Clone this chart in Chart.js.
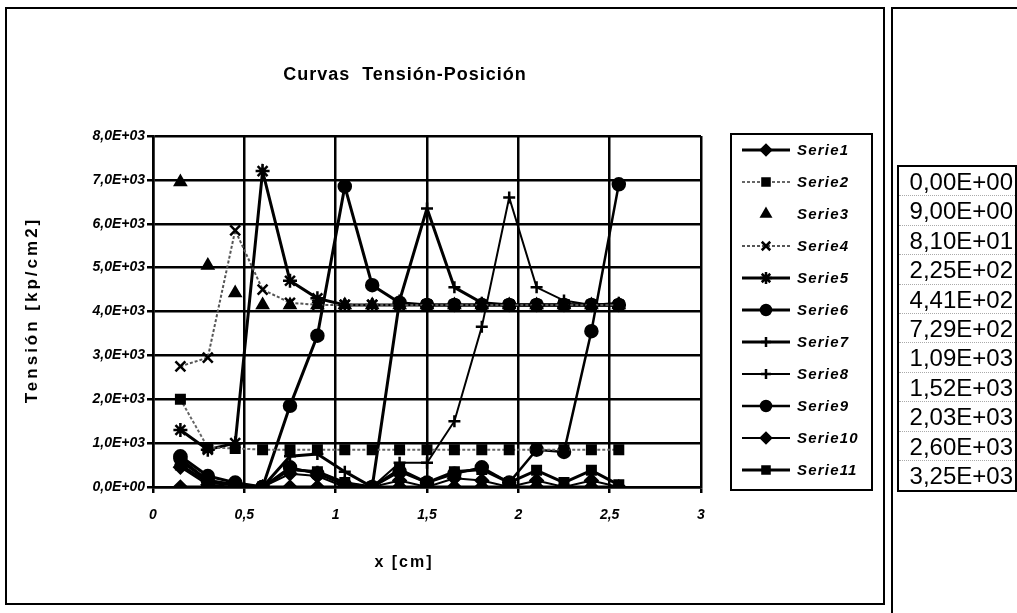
<!DOCTYPE html>
<html>
<head>
<meta charset="utf-8">
<script src="https://cdn.jsdelivr.net/npm/chart.js@4.4.0/dist/chart.umd.min.js"></script>
<style>
body { margin: 0; background: #fff; }
#wrap { position: relative; width: 1017px; height: 613px; overflow: hidden; }
#chart { position: absolute; left: 0; top: 0; }
#frame { position: absolute; left: 5px; top: 7px; width: 876px; height: 594px; border: 2px solid #000; }
#panel { position: absolute; left: 891px; top: 7px; width: 140px; height: 610px; border-left: 2px solid #000; border-top: 2px solid #000; }
#table { position: absolute; left: 897px; top: 165px; width: 116px; border: 2px solid #000;
  font-family: "Liberation Sans", Arial, sans-serif; font-size: 24px; color: #000; }
.row { height: 29.4px; line-height: 29px; text-align: right; padding-right: 2px; border-bottom: 1px dotted #aaa; box-sizing: border-box; }
.row:last-child { border-bottom: none; }
</style>
</head>
<body>
<div id="wrap">
  <div id="frame"></div>
  <canvas id="chart" width="1017" height="613"></canvas>
  <div id="panel"></div>
  <div id="table"></div>
</div>
<script>
// x positions (cm)
const xValues = [0.15, 0.3, 0.45, 0.6, 0.75, 0.9, 1.05, 1.2, 1.35, 1.5, 1.65, 1.8, 1.95, 2.1, 2.25, 2.4, 2.55];

// tension values (kp/cm2)
const serie1  = [0, 0, 0, 0, 0, 0, 0, 0, 0, 0, 0, 0, 0, 0, 0, 0, 0];
const serie2  = [2000, 900, 880, 850, 850, 850, 850, 850, 850, 850, 850, 850, 850, 850, 850, 850, 850];
const serie3  = [6950, 5050, 4420, 4150, 4150, 4150, 4150, 4150, 4150, 4150, 4150, 4150, 4150, 4150, 4150, 4150, 4150];
const serie4  = [2750, 2950, 5850, 4500, 4200, 4150, 4150, 4150, 4150, 4150, 4150, 4150, 4150, 4150, 4150, 4150, 4150];
const serie5  = [1300, 850, 1000, 7200, 4700, 4300, 4150, 4150, 4150, 4150, 4150, 4150, 4150, 4150, 4150, 4150, 4150];
const serie6  = [700, 250, 100, 0, 1850, 3450, 6850, 4600, 4200, 4150, 4150, 4150, 4150, 4150, 4150, 4150, 4150];
const serie7  = [600, 150, 50, 0, 700, 750, 350, 0, 4250, 6350, 4550, 4200, 4150, 4150, 4150, 4150, 4150];
const serie8  = [500, 100, 50, 0, 400, 350, 100, 0, 550, 550, 1500, 3650, 6600, 4550, 4250, 4150, 4200];
const serie9  = [650, 150, 50, 0, 450, 300, 50, 0, 350, 100, 300, 450, 100, 850, 800, 3550, 6900];
const serie10 = [450, 50, 0, 0, 300, 250, 0, 0, 150, 0, 200, 150, 0, 150, 0, 150, 0];
const serie11 = [500, 100, 50, 0, 400, 350, 100, 0, 400, 100, 350, 400, 100, 380, 100, 380, 50];

const seriesNames = ['Serie1', 'Serie2', 'Serie3', 'Serie4', 'Serie5', 'Serie6', 'Serie7', 'Serie8', 'Serie9', 'Serie10', 'Serie11'];
const seriesValues = [serie1, serie2, serie3, serie4, serie5, serie6, serie7, serie8, serie9, serie10, serie11];

// side table values
const tableValues = ['0,00E+00', '9,00E+00', '8,10E+01', '2,25E+02', '4,41E+02', '7,29E+02',
  '1,09E+03', '1,52E+03', '2,03E+03', '2,60E+03', '3,25E+03'];

const styles = [
  { pointStyle: 'rectRot', radius: 6, color: '#000', width: 3, dash: [], line: true },
  { pointStyle: 'rect', radius: 6, color: '#666', width: 2, dash: [3, 2], line: true },
  { pointStyle: 'triangle', radius: 6, color: '#000', width: 2, dash: [], line: false },
  { pointStyle: 'crossRot', radius: 7, color: '#555', width: 2, dash: [3, 2], line: true },
  { pointStyle: 'star', radius: 7, color: '#000', width: 3, dash: [], line: true },
  { pointStyle: 'circle', radius: 6, color: '#000', width: 3, dash: [], line: true },
  { pointStyle: 'cross', radius: 6, color: '#000', width: 3, dash: [], line: true },
  { pointStyle: 'cross', radius: 6, color: '#000', width: 2, dash: [], line: true },
  { pointStyle: 'circle', radius: 6, color: '#000', width: 2.5, dash: [], line: true },
  { pointStyle: 'rectRot', radius: 6, color: '#000', width: 2, dash: [], line: true },
  { pointStyle: 'rect', radius: 6, color: '#000', width: 3, dash: [], line: true }
];

document.getElementById('table').innerHTML = tableValues.map(v => `<div class="row">${v}</div>`).join('');

const datasets = seriesValues.map((vals, i) => {
  const s = styles[i];
  return {
    label: seriesNames[i],
    data: xValues.map((x, j) => ({ x: x, y: vals[j] })),
    showLine: s.line,
    borderColor: s.color,
    backgroundColor: s.color,
    borderWidth: s.width,
    borderDash: s.dash,
    pointStyle: s.pointStyle,
    pointRadius: s.radius,
    pointBorderWidth: 2.5,
    pointBorderColor: '#000',
    pointBackgroundColor: '#000',
    tension: 0
  };
});

function fmtY(v) {
  if (v === 0) return '0,0E+00';
  return (v / 1000).toFixed(1).replace('.', ',') + 'E+03';
}

const textPlugin = {
  id: 'texts',
  afterDraw(chart) {
    const ctx = chart.ctx;
    ctx.save();
    ctx.fillStyle = '#000';
    // title
    ctx.font = 'bold 18px "Liberation Sans", Arial, sans-serif';
    ctx.letterSpacing = '1px';
    ctx.textAlign = 'center';
    ctx.textBaseline = 'middle';
    ctx.fillText('Curvas  Tensión-Posición', 405, 75);
    // x title
    ctx.font = 'bold 16px "Liberation Sans", Arial, sans-serif';
    ctx.letterSpacing = '2px';
    ctx.fillText('x [cm]', 404, 563);
    // y title
    ctx.save();
    ctx.translate(32, 310);
    ctx.rotate(-Math.PI / 2);
    ctx.font = 'bold 17px "Liberation Sans", Arial, sans-serif';
    ctx.letterSpacing = '3px';
    ctx.fillText('Tensión [kp/cm2]', 0, 0);
    ctx.restore();

    // legend
    ctx.letterSpacing = '0px';
    ctx.lineWidth = 2;
    ctx.strokeStyle = '#000';
    ctx.strokeRect(731, 134, 141, 356);
    chart.data.datasets.forEach((ds, i) => {
      const s = styles[i];
      const y = 150 + i * 32;
      if (s.line) {
        ctx.save();
        ctx.strokeStyle = s.color;
        ctx.lineWidth = s.width;
        ctx.setLineDash(s.dash);
        ctx.beginPath();
        ctx.moveTo(742, y);
        ctx.lineTo(790, y);
        ctx.stroke();
        ctx.restore();
      }
      ctx.save();
      ctx.fillStyle = '#000';
      ctx.strokeStyle = '#000';
      ctx.lineWidth = 2.5;
      Chart.helpers.drawPoint(ctx, { pointStyle: s.pointStyle, radius: s.radius - 1, rotation: 0, borderWidth: 2.5 }, 766, y);
      ctx.restore();
      ctx.font = 'italic bold 15px "Liberation Sans", Arial, sans-serif';
      ctx.letterSpacing = '1.2px';
      ctx.textAlign = 'left';
      ctx.fillText(ds.label, 797, y + 1);
    });
    ctx.restore();
  }
};

const tickFont = { family: '"Liberation Sans", Arial, sans-serif', size: 14, weight: 'bold', style: 'italic' };

new Chart(document.getElementById('chart'), {
  type: 'scatter',
  data: { datasets: datasets },
  options: {
    responsive: false,
    animation: false,
    layout: { padding: { left: 0, top: 136, right: 316, bottom: 0 } },
    plugins: { legend: { display: false }, title: { display: false }, tooltip: { enabled: false } },
    scales: {
      x: {
        type: 'linear', min: 0, max: 3,
        ticks: { stepSize: 0.5, color: '#000', font: tickFont, padding: 14,
          callback: v => String(v).replace('.', ',') },
        grid: { color: '#000', lineWidth: 2.5, tickLength: 6 },
        border: { color: '#000', width: 2.5 },
        afterFit: s => { s.height = 126; }
      },
      y: {
        min: 0, max: 8000,
        ticks: { stepSize: 1000, color: '#000', font: tickFont, padding: 2, callback: fmtY },
        grid: { color: '#000', lineWidth: 2.5, tickLength: 6 },
        border: { color: '#000', width: 2.5 },
        afterFit: s => { s.width = 153; }
      }
    }
  },
  plugins: [textPlugin]
});
</script>
</body>
</html>
